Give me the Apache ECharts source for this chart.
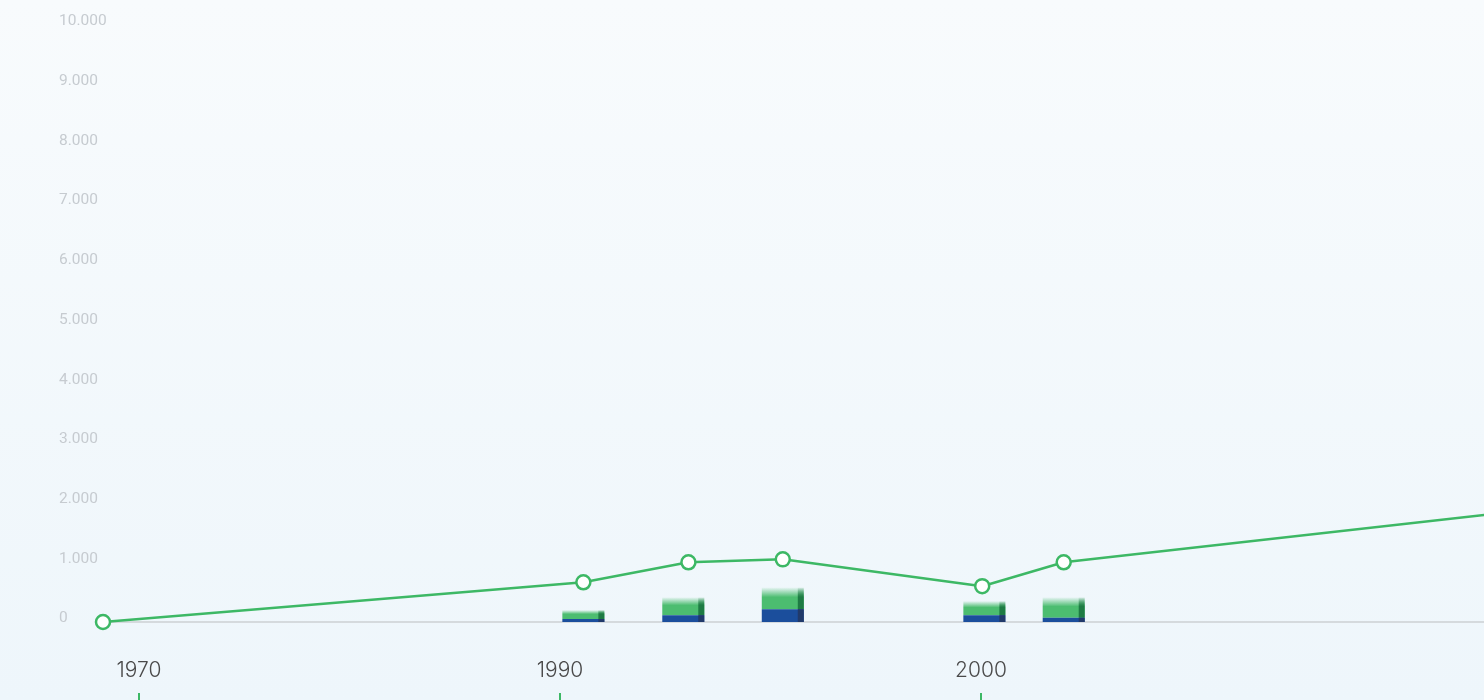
<!DOCTYPE html>
<html>
<head>
<meta charset="utf-8">
<script src="https://cdn.jsdelivr.net/npm/echarts@6/dist/echarts.min.js"></script>
<style>
html,body{margin:0;padding:0;}
#c{width:1484px;height:700px;}
</style>
</head>
<body>
<div id="c"></div>
<script>
// x positions as (decimal) years, line values
const years = [1979.5, 1990.7, 1993.15, 1995.35, 2000, 2001.9, 2012];
const lineValues = [0, 665, 1000, 1050, 600, 1000, 1815];
// stacked bars
const barYears = [1990.7, 1993.03, 1995.35, 2000.05, 2001.9];
const blueValues = [50, 115, 215, 115, 70];
const greenValues = [150, 300, 365, 235, 345];
// bottom timeline labels
const decadeLabels = ['1970', '1990', '2000'];

const GREEN = '#3db865';
const chart = echarts.init(document.getElementById('c'));

function renderBar(params, api) {
  const x = api.value(0), b = api.value(1), g = api.value(2);
  const p0 = api.coord([x, 0]);
  const p1 = api.coord([x, b]);
  const p2 = api.coord([x, b + g]);
  const w = 42, side = 6;
  const left = p0[0] - w / 2;
  const gradMain = new echarts.graphic.LinearGradient(0, 0, 0, 1, [
    {offset: 0, color: 'rgba(76,189,112,0.02)'},
    {offset: 0.45, color: 'rgba(76,189,112,1)'},
    {offset: 1, color: 'rgba(76,189,112,1)'}
  ]);
  const gradSide = new echarts.graphic.LinearGradient(0, 0, 0, 1, [
    {offset: 0, color: 'rgba(30,123,68,0.02)'},
    {offset: 0.45, color: 'rgba(30,123,68,1)'},
    {offset: 1, color: 'rgba(30,123,68,1)'}
  ]);
  return {
    type: 'group',
    children: [
      {type: 'rect', shape: {x: left, y: p2[1], width: w, height: p1[1] - p2[1]}, style: {fill: gradMain}},
      {type: 'rect', shape: {x: left + w - side, y: p2[1], width: side, height: p1[1] - p2[1]}, style: {fill: gradSide}},
      {type: 'rect', shape: {x: left, y: p1[1], width: w, height: p0[1] - p1[1]}, style: {fill: '#1b4e9c'}},
      {type: 'rect', shape: {x: left + w - side, y: p1[1], width: side, height: p0[1] - p1[1]}, style: {fill: '#213a6a'}}
    ]
  };
}

chart.setOption({
  backgroundColor: new echarts.graphic.LinearGradient(0, 0, 0, 1, [
    {offset: 0, color: '#f8fbfd'},
    {offset: 1, color: '#eef6fb'}
  ]),
  animation: false,
  grid: [
    {left: 103, right: 0, top: 25, bottom: 78, containLabel: false},
    {left: 139, right: 503, top: 692, height: 1, containLabel: false}
  ],
  xAxis: [
    {
      type: 'value', gridIndex: 0, min: 1979.5, max: 2011.7,
      axisLine: {show: true, onZero: false, lineStyle: {color: '#cdd1d4', width: 1.5}},
      axisTick: {show: false}, axisLabel: {show: false}, splitLine: {show: false}
    },
    {
      type: 'category', gridIndex: 1, data: decadeLabels, boundaryGap: false, position: 'top',
      axisLine: {show: false},
      axisTick: {show: true, inside: true, length: 12, lineStyle: {color: GREEN, width: 2}},
      axisLabel: {color: '#4a4a4a', fontSize: 21, fontWeight: 300, fontFamily: 'Inter', margin: 11},
      splitLine: {show: false}
    }
  ],
  yAxis: [
    {
      type: 'value', gridIndex: 0, min: 0, max: 10000, interval: 1000,
      axisLine: {show: false}, axisTick: {show: false}, splitLine: {show: false},
      axisLabel: {
        color: '#c6cbd0', fontSize: 15.5, fontFamily: 'Roboto', align: 'left', margin: 44,
        verticalAlign: 'bottom', lineHeight: 7,
        formatter: v => String(v).replace(/\B(?=(\d{3})+(?!\d))/g, '.')
      }
    },
    {type: 'value', gridIndex: 1, show: false}
  ],
  series: [
    {
      type: 'custom', xAxisIndex: 0, yAxisIndex: 0,
      renderItem: renderBar,
      encode: {x: 0, y: [1, 2]},
      data: barYears.map((y, i) => [y, blueValues[i], greenValues[i]]),
      z: 2
    },
    {
      type: 'line', xAxisIndex: 0, yAxisIndex: 0,
      data: years.map((y, i) => [y, lineValues[i]]),
      symbol: 'circle', symbolSize: 14, clip: false,
      lineStyle: {color: GREEN, width: 2.5},
      itemStyle: {color: '#ffffff', borderColor: GREEN, borderWidth: 2.5},
      z: 5
    }
  ]
});
</script>
</body>
</html>
